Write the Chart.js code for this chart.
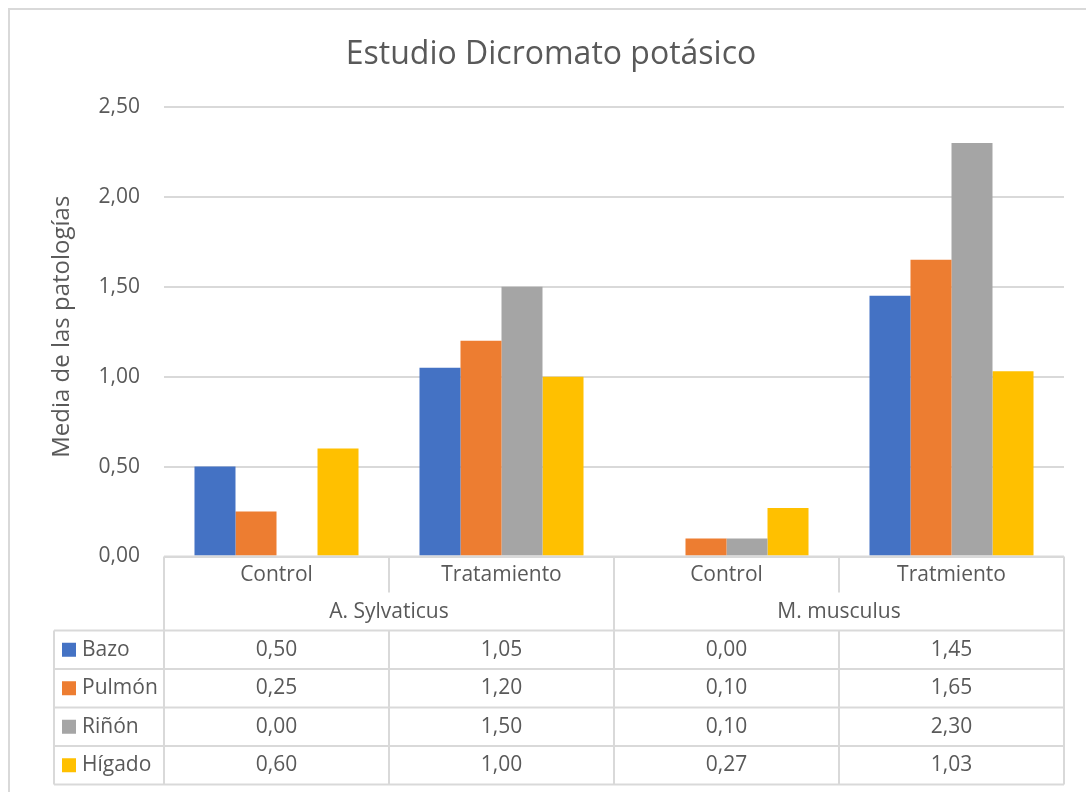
<!DOCTYPE html>
<html lang="es">
<head>
<meta charset="utf-8">
<title>Estudio Dicromato potásico</title>
<script src="https://cdn.jsdelivr.net/npm/chart.js@4"></script>
<style>
  html, body { margin: 0; padding: 0; background: #fff; }
  #wrap { position: absolute; left: 0; top: 0; width: 1086px; height: 792px; }
</style>
</head>
<body>
<div id="wrap"><canvas id="chart" width="1086" height="792"></canvas></div>
<script>
// ---- Data ----
const categories = ['Control', 'Tratamiento', 'Control', 'Tratmiento'];
const groups = ['A. Sylvaticus', 'M. musculus'];
const seriesNames = ['Bazo', 'Pulmón', 'Riñón', 'Hígado'];
const bazo = [0.50, 1.05, 0.00, 1.45];
const pulmon = [0.25, 1.20, 0.10, 1.65];
const rinon = [0.00, 1.50, 0.10, 2.30];
const higado = [0.60, 1.00, 0.27, 1.03];
const yTicks = [0, 0.5, 1, 1.5, 2, 2.5];

const colors = ['#4472C4', '#ED7D31', '#A5A5A5', '#FFC000'];
const textColor = '#595959';
const lineColor = '#D9D9D9';
const FONT = '"Open Sans", "Noto Sans", sans-serif';

const fmt = v => v.toFixed(2).replace('.', ',');

// ---- Title, y title, outer frame and the data table under the axis ----
const extrasPlugin = {
  id: 'extras',
  afterDraw(chart) {
    const ctx = chart.ctx;
    const area = chart.chartArea;
    const x = chart.scales.x;
    const n = categories.length;
    const colW = x.width / n;
    const left = area.left;
    const right = area.right;
    const top = area.bottom;
    const headH = 38, groupH = 36, rowH = 38.5;
    const keyLeft = 54;

    ctx.save();

    // outer frame
    ctx.strokeStyle = lineColor;
    ctx.lineWidth = 2;
    ctx.strokeRect(9, 9, 1100, 800);

    // title
    ctx.fillStyle = textColor;
    ctx.font = '32px ' + FONT;
    ctx.textAlign = 'center';
    ctx.textBaseline = 'alphabetic';
    ctx.fillText('Estudio Dicromato potásico', 551, 64);

    // y axis title
    ctx.save();
    ctx.translate(62, (area.top + area.bottom) / 2 - 5);
    ctx.rotate(-Math.PI / 2);
    ctx.font = '24px ' + FONT;
    ctx.textBaseline = 'middle';
    ctx.fillText('Media de las patologías', 0, 0);
    ctx.restore();

    // table lines
    ctx.strokeStyle = lineColor;
    ctx.lineWidth = 2;
    const rowsTop = top + headH + groupH;
    const bottom = rowsTop + rowH * seriesNames.length;
    ctx.beginPath();
    // top line and outer edges
    ctx.moveTo(left, top); ctx.lineTo(right, top);
    ctx.moveTo(right, top); ctx.lineTo(right, bottom);
    ctx.moveTo(left, top); ctx.lineTo(left, bottom);
    // column separators (inside a group they skip the group-name row)
    for (let i = 1; i < n; i++) {
      const cx = x.getPixelForValue(i) - colW / 2;
      if (i % 2 === 1) {
        ctx.moveTo(cx, top); ctx.lineTo(cx, top + headH - 2);
        ctx.moveTo(cx, rowsTop); ctx.lineTo(cx, bottom);
      } else {
        ctx.moveTo(cx, top); ctx.lineTo(cx, bottom);
      }
    }
    // series rows
    for (let r = 0; r <= seriesNames.length; r++) {
      const ry = rowsTop + r * rowH;
      ctx.moveTo(keyLeft, ry); ctx.lineTo(right, ry);
    }
    ctx.moveTo(keyLeft, rowsTop); ctx.lineTo(keyLeft, bottom);
    ctx.stroke();

    // category and group labels
    ctx.fillStyle = textColor;
    ctx.font = '21px ' + FONT;
    ctx.textAlign = 'center';
    ctx.textBaseline = 'middle';
    categories.forEach((c, i) => {
      ctx.fillText(c, x.getPixelForValue(i), top + headH / 2);
    });
    groups.forEach((g, gi) => {
      const gx = (x.getPixelForValue(gi * 2) + x.getPixelForValue(gi * 2 + 1)) / 2;
      ctx.fillText(g, gx, top + headH + groupH / 2);
    });

    // series rows: legend key, name, values
    chart.data.datasets.forEach((ds, r) => {
      const cy = rowsTop + r * rowH + rowH / 2;
      ctx.fillStyle = ds.backgroundColor;
      ctx.fillRect(62, cy - 7, 14, 14);
      ctx.fillStyle = textColor;
      ctx.textAlign = 'left';
      ctx.fillText(ds.label, 82, cy);
      ctx.textAlign = 'center';
      ds.data.forEach((v, i) => {
        ctx.fillText(fmt(v), x.getPixelForValue(i), cy);
      });
    });

    ctx.restore();
  }
};

const seriesData = [bazo, pulmon, rinon, higado];

new Chart(document.getElementById('chart'), {
  type: 'bar',
  data: {
    labels: categories,
    datasets: seriesNames.map((name, i) => ({
      label: name,
      data: seriesData[i],
      backgroundColor: colors[i],
      borderWidth: 0,
      barPercentage: 1,
      categoryPercentage: 0.729
    }))
  },
  options: {
    responsive: false,
    animation: false,
    devicePixelRatio: 1,
    layout: { padding: { left: 0, right: 22, top: 107, bottom: 235.5 } },
    plugins: {
      legend: { display: false },
      title: { display: false },
      tooltip: { enabled: false }
    },
    scales: {
      x: {
        display: false,
        grid: { display: false }
      },
      y: {
        min: 0,
        max: 2.5,
        afterFit(scale) { scale.width = 164; },
        afterBuildTicks(scale) { scale.ticks = yTicks.map(v => ({ value: v })); },
        border: { display: false },
        grid: { color: lineColor, lineWidth: 2, drawTicks: false },
        ticks: {
          padding: 24,
          color: textColor,
          font: { family: FONT, size: 21 },
          callback: v => fmt(v)
        }
      }
    }
  },
  plugins: [extrasPlugin]
});
</script>
</body>
</html>
